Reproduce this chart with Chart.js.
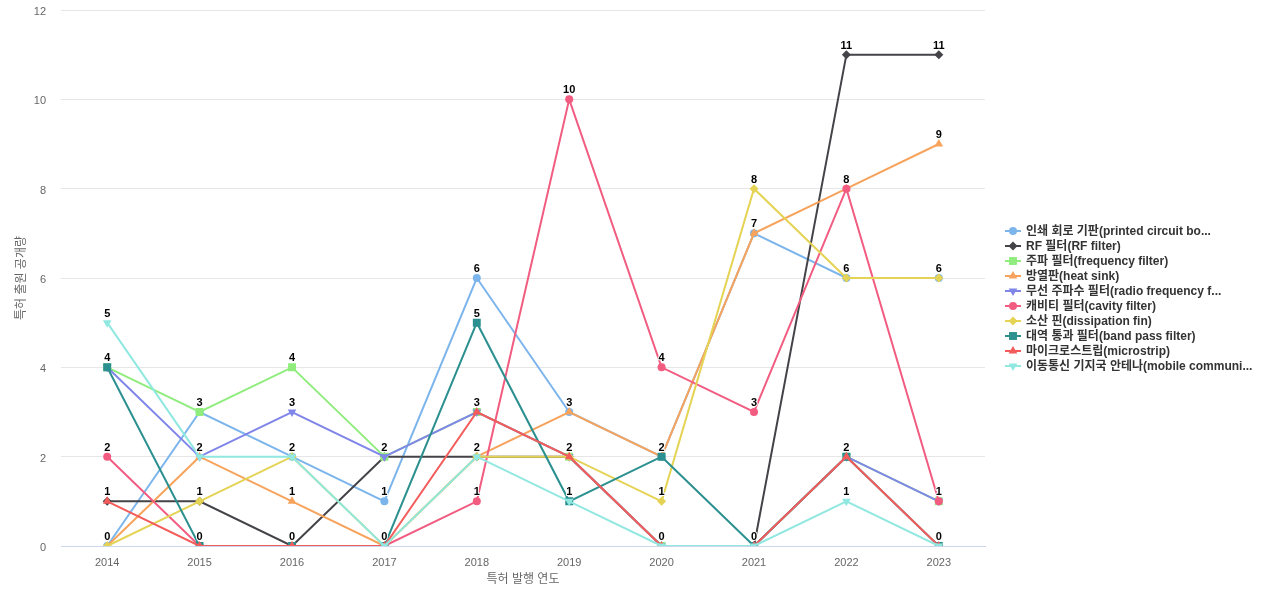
<!DOCTYPE html>
<html>
<head>
<meta charset="utf-8">
<script src="https://cdn.jsdelivr.net/npm/chart.js@4.4.1/dist/chart.umd.min.js"></script>
<style>
  html, body { margin: 0; padding: 0; background: #fff; }
  #wrap { width: 1280px; height: 600px; }
</style>
</head>
<body>
<div id="wrap"><canvas id="chart" width="1280" height="600"></canvas></div>
<script>
const years = ["2014", "2015", "2016", "2017", "2018", "2019", "2020", "2021", "2022", "2023"];
const seriesNames = [
  "인쇄 회로 기판(printed circuit bo...",
  "RF 필터(RF filter)",
  "주파 필터(frequency filter)",
  "방열판(heat sink)",
  "무선 주파수 필터(radio frequency f...",
  "캐비티 필터(cavity filter)",
  "소산 핀(dissipation fin)",
  "대역 통과 필터(band pass filter)",
  "마이크로스트립(microstrip)",
  "이동통신 기지국 안테나(mobile communi..."
];
const printedCircuitBoard = [0, 3, 2, 1, 6, 3, 2, 7, 6, 6];
const rfFilter            = [1, 1, 0, 2, 2, 2, 0, 0, 11, 11];
const frequencyFilter     = [4, 3, 4, 2, 3, 2, 0, 0, 2, 1];
const heatSink            = [0, 2, 1, 0, 2, 3, 2, 7, 8, 9];
const radioFreqFilter     = [4, 2, 3, 2, 3, 2, 0, 0, 2, 1];
const cavityFilter        = [2, 0, 0, 0, 1, 10, 4, 3, 8, 1];
const dissipationFin      = [0, 1, 2, 0, 2, 2, 1, 8, 6, 6];
const bandPassFilter      = [4, 0, 0, 0, 5, 1, 2, 0, 2, 0];
const microstrip          = [1, 0, 0, 0, 3, 2, 0, 0, 2, 0];
const mobileAntenna       = [5, 2, 2, 0, 2, 1, 0, 0, 1, 0];
const yTicks = [0, 2, 4, 6, 8, 10, 12];

const seriesData = [printedCircuitBoard, rfFilter, frequencyFilter, heatSink, radioFreqFilter,
  cavityFilter, dissipationFin, bandPassFilter, microstrip, mobileAntenna];

// look
const colors = ["#7cb5ec", "#434348", "#90ed7d", "#f7a35c", "#8085e9",
  "#f15c80", "#e4d354", "#2b908f", "#f45b5b", "#91e8e1"];
const markers = [
  { style: "circle", r: 4, rot: 0 },
  { style: "rectRot", r: 4.5, rot: 0 },
  { style: "rect", r: 5.6, rot: 0 },
  { style: "triangle", r: 5, rot: 0 },
  { style: "triangle", r: 5, rot: 180 }
];
const FONT = '"Liberation Sans", "Noto Sans CJK KR", Arial, sans-serif';
Chart.defaults.font.family = FONT;

const datasets = seriesData.map((d, i) => {
  const m = markers[i % 5];
  return {
    label: seriesNames[i],
    data: d,
    borderColor: colors[i],
    backgroundColor: colors[i],
    borderWidth: 2,
    pointStyle: m.style,
    pointRadius: m.r,
    pointRotation: m.rot,
    pointBorderWidth: 0,
    pointHoverRadius: m.r,
    tension: 0,
    order: -i   // later series on top
  };
});

// number above each point, once per year/value
const pointLabels = {
  id: "pointLabels",
  afterDatasetsDraw(chart) {
    const ctx = chart.ctx;
    const seen = new Set();
    ctx.save();
    ctx.font = "bold 11px " + FONT;
    ctx.textAlign = "center";
    ctx.textBaseline = "middle";
    ctx.lineJoin = "round";
    chart.data.datasets.forEach((ds, i) => {
      const meta = chart.getDatasetMeta(i);
      meta.data.forEach((pt, j) => {
        const v = ds.data[j];
        const key = j + ":" + v;
        if (v == null || seen.has(key)) return;
        seen.add(key);
        ctx.strokeStyle = "#fff";
        ctx.lineWidth = 2;
        ctx.strokeText(String(v), pt.x, pt.y - 9);
        ctx.fillStyle = "#000";
        ctx.fillText(String(v), pt.x, pt.y - 9);
      });
    });
    ctx.restore();
  }
};

// legend on the right, line + marker like the original
const sideLegend = {
  id: "sideLegend",
  afterDraw(chart) {
    const ctx = chart.ctx;
    const x0 = chart.chartArea.right + 20;
    const y0 = 231;
    ctx.save();
    ctx.font = "bold 12px " + FONT;
    ctx.textBaseline = "middle";
    ctx.textAlign = "left";
    chart.data.datasets.forEach((ds, i) => {
      const y = y0 + i * 15;
      ctx.strokeStyle = ds.borderColor;
      ctx.lineWidth = 2;
      ctx.beginPath();
      ctx.moveTo(x0, y);
      ctx.lineTo(x0 + 16, y);
      ctx.stroke();
      ctx.fillStyle = ds.borderColor;
      Chart.helpers.drawPoint(ctx, {
        pointStyle: ds.pointStyle, rotation: ds.pointRotation,
        radius: ds.pointRadius, borderWidth: 0
      }, x0 + 8, y);
      ctx.fillStyle = "#333333";
      ctx.fillText(ds.label, x0 + 21, y + 0.5);
    });
    ctx.restore();
  }
};

new Chart(document.getElementById("chart"), {
  type: "line",
  data: { labels: years, datasets: datasets },
  options: {
    responsive: false,
    animation: false,
    layout: { padding: { left: 0, right: 295, top: 10, bottom: 0 } },
    plugins: {
      legend: { display: false },
      tooltip: { enabled: false }
    },
    scales: {
      x: {
        type: "category",
        offset: true,
        afterFit(axis) { axis.height = 54; },
        grid: { display: false, drawTicks: false },
        border: { color: "#ccd6eb", width: 1 },
        ticks: { color: "#666666", font: { size: 11 }, padding: 10, maxRotation: 0 },
        title: { display: true, text: "특허 발행 연도", color: "#666666", font: { size: 12 }, padding: { top: 0, bottom: 13 } }
      },
      y: {
        min: 0,
        max: 12,
        afterBuildTicks(axis) { axis.ticks = yTicks.map(v => ({ value: v })); },
        afterFit(axis) {
          axis.width = 61;
          axis.paddingTop = 0;
          axis.paddingBottom = 0;
        },
        grid: { color: "#e6e6e6", drawTicks: false },
        border: { display: false },
        ticks: { color: "#666666", font: { size: 11 }, padding: 15, labelOffset: 2 },
        title: { display: true, text: "특허 출원 공개량", color: "#666666", font: { size: 12 }, padding: { top: 14, bottom: 0 } }
      }
    }
  },
  plugins: [pointLabels, sideLegend]
});
</script>
</body>
</html>
